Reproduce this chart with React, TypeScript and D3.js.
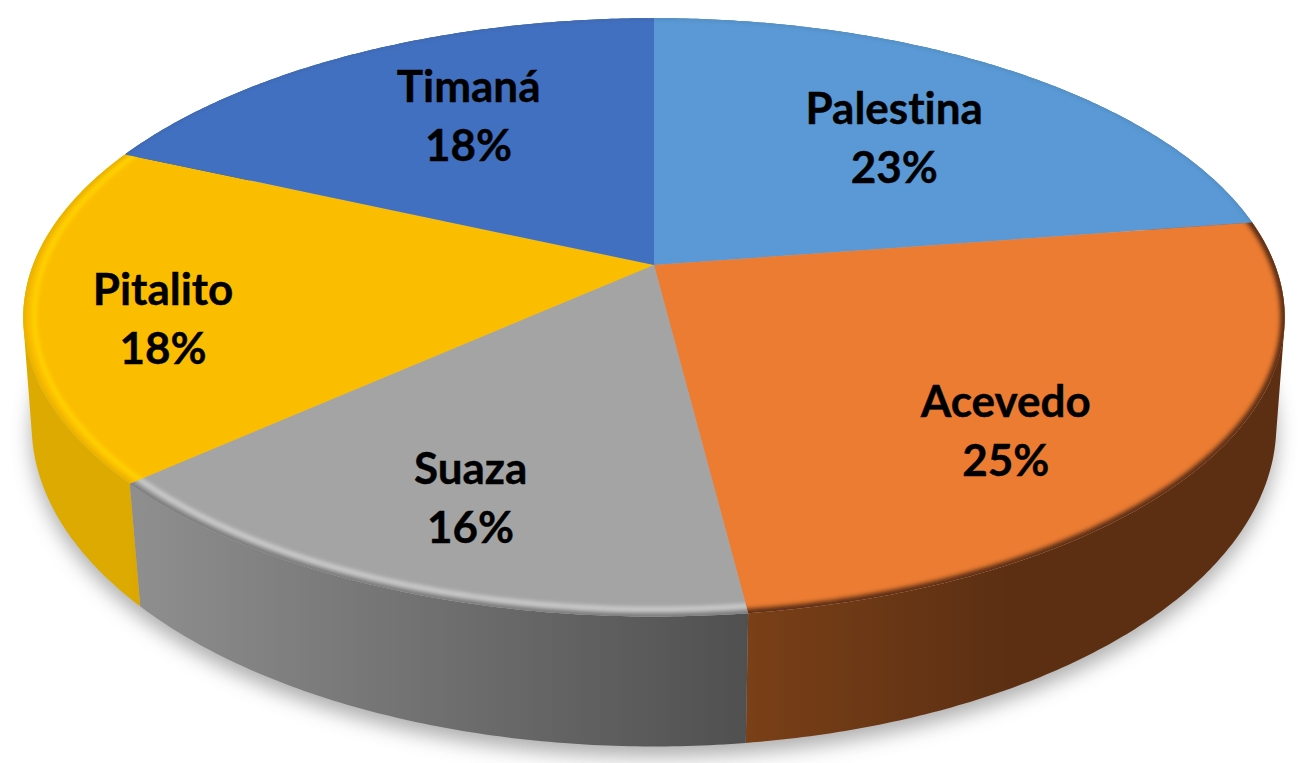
import React from "react";
import * as d3 from "d3";

const categories = ["Palestina", "Acevedo", "Suaza", "Pitalito", "Timaná"];
const shares = [22.6, 25.4, 15.4, 18.3, 18.3];
const shareLabels = ["23%", "25%", "16%", "18%", "18%"];

const topColors = ["#5A99D5", "#EB7C32", "#A4A4A4", "#FBBD00", "#4270C0"];
const sideStops = [
  ["#3a6a97", "#3a6a97"],
  ["#7a4017", "#5c2f13"],
  ["#8e8e8e", "#505050"],
  ["#dcaa00", "#dba600"],
  ["#2f5290", "#2f5290"],
];
const rimOuter = ["#4a83b8", "#5c2f13", "#7c7c7c", "#e3b000", "#3a62a8"];
const rimOuterWidth = [2, 9, 7, 5, 2];
const rimGlow = ["none", "none", "#d6d6d6", "#ffd800", "none"];
const labelNudge = [[-2, 7], [6, 46], [-25, 37], [-85, 27], [15, -3]];

const W = 1307, H = 763;
const cx = 654;
const topPlane = { y0: 265, A: 621, B: 290, p: 0.175 };
const basePlane = { y0: 372.5, A: 614, B: 313, p: 0.163 };

type Plane = typeof topPlane;
const project = (pl: Plane, t: number, r = 1): [number, number] => {
  const u = r * Math.sin(t), v = r * Math.cos(t);
  const d = 1 + pl.p * v;
  return [cx + (pl.A * u) / d, pl.y0 - (pl.B * v) / d];
};
const sample = (a: number, b: number) => {
  const n = Math.max(2, Math.ceil((b - a) / 0.01));
  return d3.range(n + 1).map((i) => a + ((b - a) * i) / n);
};
const line = d3.line<[number, number]>().curve(d3.curveLinear);

const arcs = d3.pie<number>().sort(null).value((d) => d)(shares);

export default function App() {
  const rimPath = (a: number, b: number, r: number) =>
    line(sample(a, b).map((t) => project(topPlane, t, r)))!;
  const topPath = (a: number, b: number) =>
    line([[cx, topPlane.y0], ...sample(a, b).map((t) => project(topPlane, t))])! + "Z";
  const sidePath = (a: number, b: number) => {
    const ts = sample(a, b);
    return d3
      .pairs(ts)
      .map(([s, e]) => {
        const q: [number, number][] = [
          project(topPlane, s),
          project(topPlane, e),
          project(basePlane, e),
          project(basePlane, s),
        ];
        if (d3.polygonArea(q) < 0) q.reverse();
        return line(q) + "Z";
      })
      .join("");
  };
  const basePath = line(sample(0, 2 * Math.PI).map((t) => project(basePlane, t)))! + "Z";

  return (
    <svg
      width={W}
      height={H}
      viewBox={`0 0 ${W} ${H}`}
      style={{ position: "absolute", left: 0, top: 0, background: "#fff" }}
    >
      <defs>
        <filter id="shadow" x="-10%" y="-10%" width="120%" height="120%">
          <feGaussianBlur stdDeviation="10" />
        </filter>
        <filter id="soft" x="-5%" y="-5%" width="110%" height="110%">
          <feGaussianBlur stdDeviation="2" />
        </filter>
        {arcs.map((a, i) => {
          const x0 = project(basePlane, a.startAngle)[0];
          const x1 = project(basePlane, a.endAngle)[0];
          const lo = Math.min(x0, x1), hi = Math.max(x0, x1);
          return (
            <linearGradient
              key={i}
              id={`side${i}`}
              gradientUnits="userSpaceOnUse"
              x1={lo}
              x2={i === 1 ? lo + 260 : hi}
              y1={0}
              y2={0}
            >
              <stop offset="0" stopColor={sideStops[i][0]} />
              <stop offset="1" stopColor={sideStops[i][1]} />
            </linearGradient>
          );
        })}
        {arcs.map((a, i) => (
          <clipPath id={`clip${i}`} key={i}>
            <path d={topPath(a.startAngle, a.endAngle)} />
          </clipPath>
        ))}
      </defs>

      <path d={basePath} fill="#a4a4a4" opacity={0.9} filter="url(#shadow)" transform="translate(0,10)" />

      {arcs.map((a, i) => (
        <path key={i} d={sidePath(a.startAngle, a.endAngle)} fill={`url(#side${i})`} />
      ))}

      {arcs.map((a, i) => (
        <path key={i} d={topPath(a.startAngle, a.endAngle)} fill={topColors[i]} />
      ))}

      {arcs.map((a, i) => (
        <g key={i} clipPath={`url(#clip${i})`}>
          <path
            d={rimPath(a.startAngle - 0.05, a.endAngle + 0.05, 1)}
            fill="none"
            stroke={rimOuter[i]}
            strokeWidth={rimOuterWidth[i]}
            filter="url(#soft)"
          />
          <path
            d={rimPath(a.startAngle - 0.05, a.endAngle + 0.05, 0.983)}
            fill="none"
            stroke={rimGlow[i]}
            strokeWidth={4}
            filter="url(#soft)"
          />
        </g>
      ))}

      {arcs.map((a, i) => {
        const mid = (a.startAngle + a.endAngle) / 2;
        const [x, y] = project(topPlane, mid, 0.65);
        const lx = x + labelNudge[i][0];
        const ly = y + labelNudge[i][1];
        return (
          <text
            key={i}
            textAnchor="middle"
            fontFamily="Lato, 'Open Sans', sans-serif"
            fontWeight={700}
            fontSize={44}
            fill="#000"
            stroke="#000"
            strokeWidth={0.4}
            style={{ fontVariantLigatures: "none" }}
          >
            <tspan x={lx} y={ly - 16}>{categories[i]}</tspan>
            <tspan x={lx} y={ly + 43}>{shareLabels[i]}</tspan>
          </text>
        );
      })}
    </svg>
  );
}
